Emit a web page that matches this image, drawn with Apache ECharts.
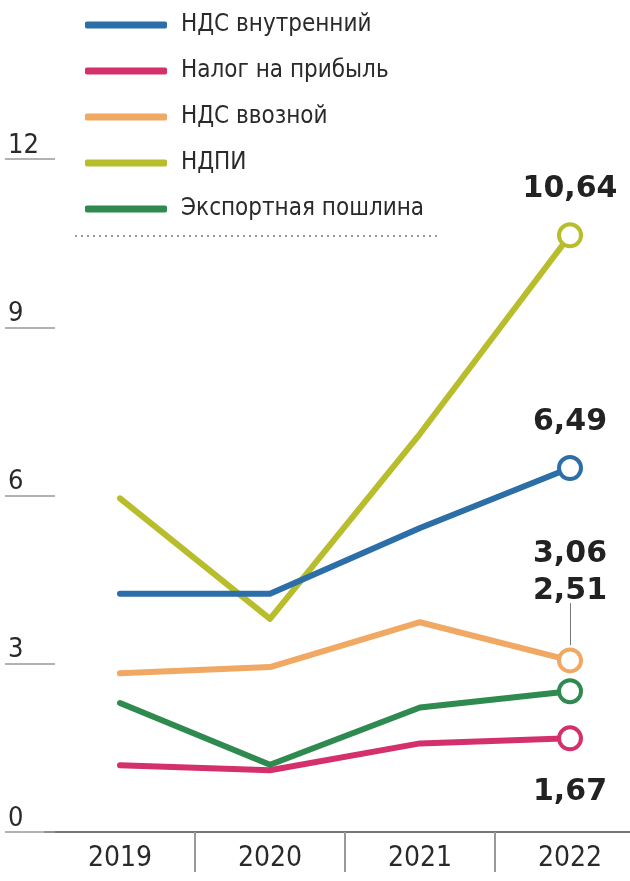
<!DOCTYPE html>
<html>
<head>
<meta charset="utf-8">
<script src="https://cdn.jsdelivr.net/npm/echarts@6/dist/echarts.min.js"></script>
<style>
html,body{margin:0;padding:0;background:#fff;}
#c{width:630px;height:881px;}
</style>
</head>
<body>
<div id="c"></div>
<script>
const years = ['2019', '2020', '2021', '2022'];
const seriesNames = ['НДС внутренний', 'Налог на прибыль', 'НДС ввозной', 'НДПИ', 'Экспортная пошлина'];
const ndsInternal = [4.25, 4.25, 5.42, 6.49];
const profitTax = [1.19, 1.1, 1.58, 1.67];
const ndsImport = [2.83, 2.94, 3.74, 3.06];
const ndpi = [5.95, 3.8, 7.1, 10.64];
const exportDuty = [2.3, 1.2, 2.22, 2.51];
const yTicks = [0, 3, 6, 9, 12];

const colors = {
  'НДС внутренний': '#2c6ea8',
  'Налог на прибыль': '#d3306c',
  'НДС ввозной': '#f0a862',
  'НДПИ': '#b8bd2c',
  'Экспортная пошлина': '#2f8a50'
};
const narrow = "'Liberation Sans Narrow','DejaVu Sans Condensed','Roboto Condensed',sans-serif";
const boldFont = "'DejaVu Sans',sans-serif";

function fmt(v) { return String(v.toFixed(2)).replace('.', ','); }

function buildSeries(name, values, labelPos, labelDist) {
  const c = colors[name];
  const last = values.length - 1;
  const data = values.map((v, i) => {
    if (i !== last) return { value: v, symbolSize: 0 };
    return {
      value: v,
      symbolSize: 22,
      itemStyle: { color: '#fff', borderColor: c, borderWidth: 4 },
      label: {
        show: true,
        position: labelPos,
        distance: labelDist,
        formatter: p => fmt(p.value),
        fontFamily: boldFont,
        fontWeight: 'bold',
        fontSize: 30,
        color: '#222'
      }
    };
  });
  return {
    name: name,
    type: 'line',
    data: data,
    symbol: 'circle',
    showAllSymbol: true,
    color: c,
    itemStyle: { color: c },
    lineStyle: { color: c, width: 6, cap: 'round', join: 'round' },
    emphasis: { disabled: true },
    animation: false,
    z: 2
  };
}

const sNdpi = buildSeries('НДПИ', ndpi, 'top', 18);
const sExport = buildSeries('Экспортная пошлина', exportDuty, 'top', 72);
sExport.markLine = {
  silent: true,
  symbol: 'none',
  label: { show: false },
  lineStyle: { color: '#777', width: 1, type: 'solid' },
  data: [[{ coord: ['2022', 4.08] }, { coord: ['2022', 3.33] }]]
};
const sImport = buildSeries('НДС ввозной', ndsImport, 'top', 78);
const sInternal = buildSeries('НДС внутренний', ndsInternal, 'top', 18);
const sProfit = buildSeries('Налог на прибыль', profitTax, 'bottom', 26);

const chart = echarts.init(document.getElementById('c'), null, { renderer: 'canvas' });
chart.setOption({
  backgroundColor: '#fff',
  animation: false,
  legend: {
    data: seriesNames,
    orient: 'vertical',
    left: 80,
    top: 5,
    icon: 'roundRect',
    itemWidth: 82,
    itemHeight: 7,
    itemGap: 16,
    selectedMode: false,
    textStyle: {
      fontFamily: narrow,
      fontSize: 24,
      color: '#2a2a2a',
      lineHeight: 30,
      padding: [0, 0, 0, 9]
    }
  },
  graphic: [{
    type: 'line',
    shape: { x1: 75, y1: 236, x2: 440, y2: 236 },
    style: { stroke: '#999', lineWidth: 2, lineDash: [2, 4] },
    silent: true
  }],
  grid: { left: 45, width: 600, top: 159, bottom: 49, containLabel: false, outerBoundsMode: 'none' },
  xAxis: {
    type: 'category',
    data: years,
    boundaryGap: true,
    axisLine: { show: true, lineStyle: { color: '#777', width: 2 } },
    axisTick: {
      show: true,
      length: 40,
      interval: (i) => i !== 0,
      lineStyle: { color: '#999', width: 2 }
    },
    axisLabel: {
      margin: 13,
      fontFamily: narrow,
      fontSize: 28,
      color: '#2a2a2a'
    },
    splitLine: { show: false }
  },
  yAxis: {
    type: 'value',
    min: 0,
    max: 12,
    interval: 3,
    offset: -10,
    axisLine: { show: false },
    axisTick: { show: true, length: 50, lineStyle: { color: '#999', width: 1.5 } },
    axisLabel: {
      margin: 47,
      align: 'left',
      verticalAlign: 'bottom',
      fontFamily: narrow,
      fontSize: 27,
      color: '#2a2a2a',
      formatter: v => yTicks.includes(v) ? String(v) : ''
    },
    splitLine: { show: false }
  },
  series: [sNdpi, sExport, sImport, sInternal, sProfit]
});
</script>
</body>
</html>
